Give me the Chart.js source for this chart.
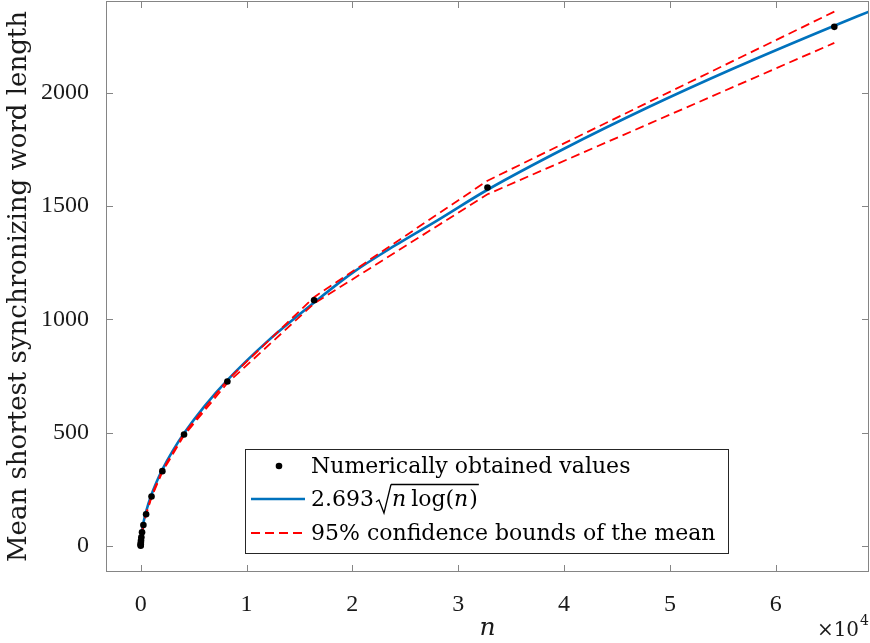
<!DOCTYPE html>
<html><head><meta charset="utf-8">
<script src="https://cdn.jsdelivr.net/npm/chart.js@4"></script>
<style>html,body{margin:0;padding:0;background:#fff}#wrap{width:870px;height:643px}</style>
</head><body><div id="wrap"><canvas id="c" width="870" height="643"></canvas></div>
<script>
// ---- data ----
const sampleN   = [2,4,8,16,32,64,128,256,512,1024,2048,4096,8192,16384,32768,65536];
const meanLen   = [1,4,8,14,24,38,60,92,140,218,330,492,726,1084,1582,2291];
const upperCI   = [2,5,9,15,25,39,61,94,142,221,333,496,732,1098,1612,2358];
const lowerCI   = [0,3,7,13,23,37,59,90,138,215,327,488,719,1070,1552,2220];
const fitN      = [1,2,4,8,16,32,64,128,256,512,1024,1500,2048,3000,4096,6000,8192,12000,16384,20000,24000,28000,32768,40000,48000,56000,65536,68813];
const fitLen    = [0,3,6,11,18,28,44,67,102,152,227,282,337,417,497,615,732,904,1074,1205,1325,1436,1572,1753,1937,2107,2296,2358];
const xTickValues = [0,10000,20000,30000,40000,50000,60000];
const xTickLabels = ['0','1','2','3','4','5','6'];
const yTickValues = [0,500,1000,1500,2000];
const yTickLabels = ['0','500','1000','1500','2000'];
const labels = ['Numerically obtained values','2.693\u221A(n log(n))','95% confidence bounds of the mean'];

const TFONT = '"Liberation Serif", "Times New Roman", serif';
const FONT = '"DejaVu Serif", serif';
const AXIS = '#858585';
const TXT = '#1a1a1a';
const BLUE = '#0072BD';
const RED = '#FF0000';

const pts = (xs, ys) => xs.map((v,i)=>({x:v,y:ys[i]}));

const frame = {
  id:'frame',
  afterDraw(chart){
    const {ctx, chartArea:a, scales:{x,y}} = chart;
    ctx.save();
    ctx.strokeStyle = AXIS; ctx.lineWidth = 1;
    ctx.strokeRect(a.left+0.5, a.top+0.5, a.right-a.left-1, a.bottom-a.top-1);
    const L = 7;
    ctx.beginPath();
    x.ticks.forEach(t=>{
      const p = Math.round(x.getPixelForValue(t.value))+0.5;
      ctx.moveTo(p,a.bottom); ctx.lineTo(p,a.bottom-L);
      ctx.moveTo(p,a.top); ctx.lineTo(p,a.top+L);
    });
    y.ticks.forEach(t=>{
      const p = Math.round(y.getPixelForValue(t.value))+0.5;
      ctx.moveTo(a.left,p); ctx.lineTo(a.left+L,p);
      ctx.moveTo(a.right,p); ctx.lineTo(a.right-L,p);
    });
    ctx.stroke();

    // x10^4 exponent label
    ctx.fillStyle = TXT;
    ctx.textBaseline = 'alphabetic';
    ctx.textAlign = 'left';
    ctx.font = '20px ' + FONT;
    const base = '\u00D710';
    const wBase = ctx.measureText(base).width;
    ctx.font = '14px ' + FONT;
    const wExp = ctx.measureText('4').width;
    const x0 = a.right - wBase - wExp - 1;
    ctx.font = '20px ' + FONT;
    ctx.fillText(base, x0, 636);
    ctx.font = '14px ' + FONT;
    ctx.fillText('4', x0 + wBase + 1, 625);

    // legend box
    const bx = 245.5, by = 449.5, bw = 483, bh = 104;
    ctx.fillStyle = '#fff';
    ctx.fillRect(bx, by, bw, bh);
    ctx.strokeStyle = '#262626'; ctx.lineWidth = 1;
    ctx.strokeRect(bx, by, bw, bh);
    const rows = [466, 499, 533];
    const tx = 311;
    const FS = 22;
    ctx.fillStyle = '#000';
    ctx.textBaseline = 'middle';
    ctx.font = FS + 'px ' + FONT;
    // row 1
    ctx.beginPath(); ctx.arc(279, rows[0], 3.3, 0, Math.PI*2); ctx.fill();
    ctx.fillText(labels[0], tx, rows[0]+1);
    // row 2
    ctx.strokeStyle = BLUE; ctx.lineWidth = 2.5;
    ctx.beginPath(); ctx.moveTo(251, rows[1]); ctx.lineTo(305, rows[1]); ctx.stroke();
    let cx = tx;
    ctx.fillText('2.693', cx, rows[1]+1); cx += ctx.measureText('2.693').width + 2;
    // radical
    const rTop = rows[1]-15, rBot = rows[1]+14;
    ctx.strokeStyle = '#000'; ctx.lineWidth = 1.3;
    ctx.beginPath();
    ctx.moveTo(cx, rows[1]+3); ctx.lineTo(cx+3, rows[1]+1);
    ctx.lineTo(cx+8, rBot); ctx.lineTo(cx+15, rTop+0.5);
    ctx.stroke();
    const sx = cx+15;
    cx = sx + 1;
    ctx.font = 'italic ' + FS + 'px ' + FONT;
    ctx.fillText('n', cx, rows[1]+1); cx += ctx.measureText('n').width + 5;
    ctx.font = FS + 'px ' + FONT;
    ctx.fillText('log(', cx, rows[1]+1); cx += ctx.measureText('log(').width;
    ctx.font = 'italic ' + FS + 'px ' + FONT;
    ctx.fillText('n', cx, rows[1]+1); cx += ctx.measureText('n').width + 1;
    ctx.font = FS + 'px ' + FONT;
    ctx.fillText(')', cx, rows[1]+1); cx += ctx.measureText(')').width;
    ctx.beginPath(); ctx.moveTo(sx, rTop+0.5); ctx.lineTo(cx+1, rTop+0.5); ctx.stroke();
    // row 3
    ctx.strokeStyle = RED; ctx.lineWidth = 1.8; ctx.setLineDash([9,5]);
    ctx.beginPath(); ctx.moveTo(251, rows[2]); ctx.lineTo(305, rows[2]); ctx.stroke();
    ctx.setLineDash([]);
    ctx.fillText(labels[2], tx, rows[2]+1);
    ctx.restore();
  }
};

function setTicks(values){ return (s)=>{ s.ticks = values.map(v=>({value:v})); }; }

new Chart(document.getElementById('c'), {
  type:'scatter',
  data:{datasets:[
    {label:labels[0], data:pts(sampleN, meanLen), showLine:false, pointRadius:3.3, pointBackgroundColor:'#000', pointBorderWidth:0, order:0},
    {label:'upper', data:pts(sampleN, upperCI), showLine:true, borderColor:RED, borderWidth:1.8, borderDash:[9,5], pointRadius:0, order:1},
    {label:'lower', data:pts(sampleN, lowerCI), showLine:true, borderColor:RED, borderWidth:1.8, borderDash:[9,5], pointRadius:0, order:1},
    {label:labels[1], data:pts(fitN, fitLen), showLine:true, borderColor:BLUE, borderWidth:2.6, pointRadius:0, cubicInterpolationMode:'monotone', order:2}
  ]},
  options:{
    responsive:false, animation:false, events:[],
    layout:{autoPadding:false, padding:{top:1,right:1,left:0,bottom:0}},
    plugins:{legend:{display:false}, tooltip:{enabled:false}},
    scales:{
      x:{type:'linear', min:-3276.8, max:68812.8,
        grid:{display:false}, border:{display:false},
        afterBuildTicks:setTicks(xTickValues),
        ticks:{padding:10, maxRotation:0, autoSkip:false,
          color:TXT, font:{family:TFONT, size:24},
          callback:(v)=>{const i=xTickValues.indexOf(v); return i>=0?xTickLabels[i]:'';}},
        title:{display:true, text:'n', color:TXT, font:{family:FONT, size:25, style:'italic'}, padding:{top:0,bottom:0}},
        afterFit:(s)=>{s.height = 71; s.paddingLeft=0; s.paddingRight=0;}
      },
      y:{type:'linear', min:-115, max:2405,
        grid:{display:false}, border:{display:false},
        afterBuildTicks:setTicks(yTickValues),
        ticks:{padding:9, color:TXT, font:{family:TFONT, size:24},
          callback:(v)=>{const i=yTickValues.indexOf(v); return i>=0?yTickLabels[i]:'';}},
        title:{display:true, text:'Mean shortest synchronizing word length', color:TXT, font:{family:FONT, size:26}, padding:{top:4,bottom:0}},
        afterFit:(s)=>{s.width = 106; s.paddingTop=0; s.paddingBottom=0;}
      }
    }
  },
  plugins:[frame]
});
</script>
</body></html>
